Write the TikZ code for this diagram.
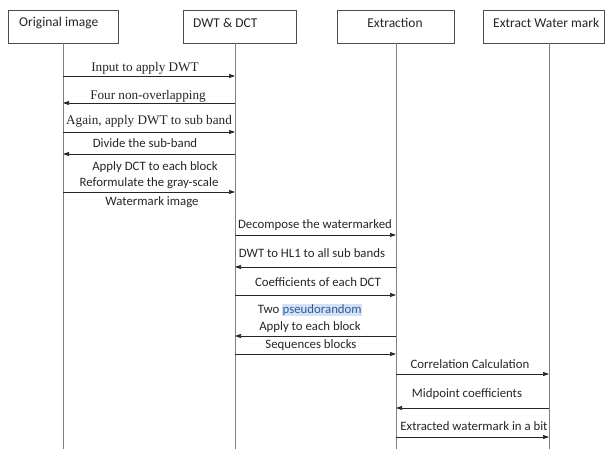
\documentclass[tikz,border=0pt]{standalone}
\usepackage{fontspec}
\setmainfont{Carlito}
\newfontfamily\tnr{Liberation Serif}
\usetikzlibrary{arrows.meta}
\definecolor{hl}{HTML}{D3E3F5}
\definecolor{hltext}{HTML}{2E5C9A}
\begin{document}
\begin{tikzpicture}[x=1pt,y=-1pt,
  headbox/.style={draw=black!70, line width=0.8pt, anchor=north west, inner sep=0pt},
  hlabel/.style={font=\fontsize{13.5}{15}\selectfont, inner sep=0pt, text=black!85},
  life/.style={draw=black!50, line width=0.8pt},
  msg/.style={draw=black!85, line width=0.7pt, -{Triangle[length=6pt,width=4pt]}},
  mlabel/.style={font=\fontsize{12.8}{14}\selectfont, inner sep=0pt, text=black!85},
  slabel/.style={font=\tnr\fontsize{13.2}{15}\selectfont, inner sep=0pt, text=black!85}]
\path[fill=white] (0,0) rectangle (613,449);
\useasboundingbox (0,0) rectangle (613,449);
% heads
\node[headbox, minimum width=110pt, minimum height=33pt] (b1) at (8,10) {};
\node[headbox, minimum width=113pt, minimum height=33pt] (b2) at (183,10) {};
\node[headbox, minimum width=117pt, minimum height=33pt] (b3) at (337,10) {};
\node[headbox, minimum width=121pt, minimum height=33pt] (b4) at (483,10) {};
\node[hlabel, anchor=west] (t1) at (19,23) {Original image};
\node[hlabel, anchor=west] (t2) at (193,23) {DWT \& DCT};
\node[hlabel] (t3) at (395,23) {Extraction};
\node[hlabel, anchor=west] (t4) at (493,23) {Extract Water mark};
% lifelines
\coordinate (l1) at (63,43);  \coordinate (e1) at (63,449);
\coordinate (l2) at (235,43); \coordinate (e2) at (235,449);
\coordinate (l3) at (396,43); \coordinate (e3) at (396,449);
\coordinate (l4) at (549,43); \coordinate (e4) at (549,449);
\draw[life] (l1) -- (e1);
\draw[life] (l2) -- (e2);
\draw[life] (l3) -- (e3);
\draw[life] (l4) -- (e4);
% messages 1-2
\draw[msg] (l1 |- 0,76) -- (l2 |- 0,76);
\node[slabel] (m1) at (145,68) {Input to apply DWT};
\draw[msg] (l2 |- 0,103) -- (l1 |- 0,103);
\node[slabel] (m2) at (148,96) {Four non-overlapping};
\draw[msg] (l1 |- 0,132) -- (l2 |- 0,132);
\node[slabel] (m3) at (149,121) {Again, apply DWT to sub band};
\draw[msg] (l2 |- 0,154) -- (l1 |- 0,154);
\node[mlabel] (m4) at (145,143) {Divide the sub-band};
\node[mlabel] (m5a) at (155,167) {Apply DCT to each block};
\node[mlabel] (m5b) at (149,183) {Reformulate the gray-scale};
\draw[msg] (l1 |- 0,192) -- (l2 |- 0,192);
\node[mlabel] (m5c) at (152,202) {Watermark image};
% messages 2-3
\draw[msg] (l2 |- 0,235) -- (l3 |- 0,235);
\node[mlabel] (m6) at (315,225) {Decompose the watermarked};
\draw[msg] (l3 |- 0,267) -- (l2 |- 0,267);
\node[mlabel] (m7) at (312,253) {DWT to HL1 to all sub bands};
\draw[msg] (l2 |- 0,295) -- (l3 |- 0,295);
\node[mlabel] (m8) at (318,282) {Coefficients of each DCT};
\node[mlabel] (m9a) at (310,310) {Two \setlength{\fboxsep}{0.5pt}\colorbox{hl}{\textcolor{hltext}{pseudorandom}}};
\node[mlabel] (m9b) at (310,327) {Apply to each block};
\draw[msg] (l3 |- 0,336) -- (l2 |- 0,336);
\node[mlabel] (m10) at (311,345) {Sequences blocks};
\draw[msg] (l2 |- 0,354) -- (l3 |- 0,354);
% messages 3-4
\node[mlabel] (m11) at (470,364) {Correlation Calculation};
\draw[msg] (l3 |- 0,374) -- (l4 |- 0,374);
\node[mlabel] (m12) at (467,394) {Midpoint coefficients};
\draw[msg] (l4 |- 0,408) -- (l3 |- 0,408);
\node[mlabel] (m13) at (474,426) {Extracted watermark in a bit};
\draw[msg] (l3 |- 0,437) -- (l4 |- 0,437);
\end{tikzpicture}
\end{document}
